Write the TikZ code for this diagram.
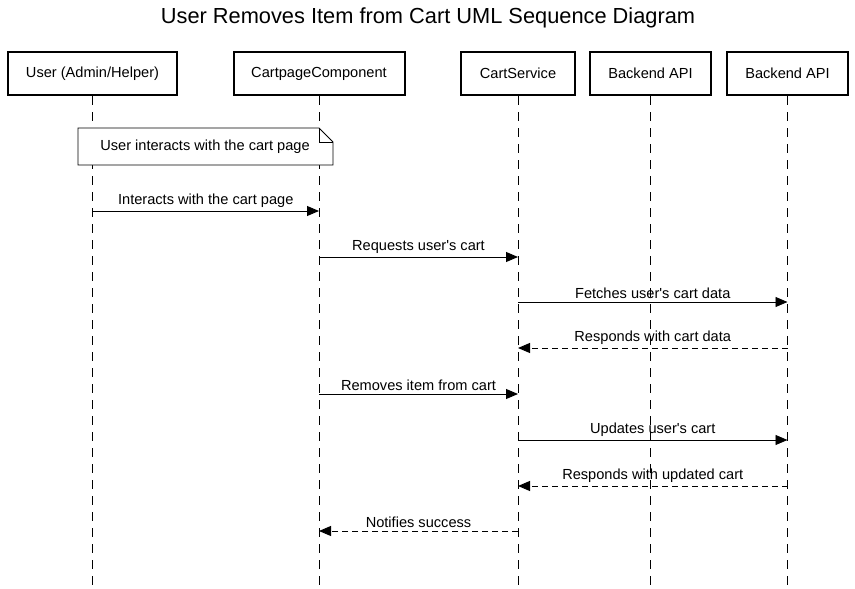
\documentclass[tikz,border=0pt]{standalone}
\usepackage{fontspec}
\setmainfont{Liberation Sans}
\usetikzlibrary{arrows.meta}
\begin{document}
\begin{tikzpicture}[x=1pt,y=-1pt,
  actor/.style={draw,line width=2pt,minimum height=43pt,inner sep=0pt,font=\fontsize{14.6}{16}\selectfont},
  life/.style={line width=0.9pt,dash pattern=on 9pt off 7pt},
  msg/.style={line width=0.9pt,-{Triangle[length=12pt,width=10pt]}},
  ret/.style={msg,dash pattern=on 6pt off 4pt},
  lbl/.style={font=\fontsize{14.6}{16}\selectfont,above=0pt}]
\useasboundingbox (0,0) rectangle (855,589);
\node[font=\fontsize{21.8}{26}\selectfont] (title) at (428,18) {User Removes Item from Cart UML Sequence Diagram};
\node[actor,minimum width=169pt] (u) at (92.5,73.5) {User (Admin/Helper)};
\node[actor,minimum width=171pt] (c) at (319,73.5) {CartpageComponent};
\node[actor,minimum width=114pt] (s) at (518,73.5) {CartService};
\node[actor,minimum width=121pt] (b1) at (650.5,73.5) {Backend API};
\node[actor,minimum width=121pt] (b2) at (787.5,73.5) {Backend API};
\coordinate (ue) at (92.5,589);
\coordinate (ce) at (319,589);
\coordinate (se) at (518,589);
\coordinate (b1e) at (650.5,589);
\coordinate (b2e) at (787.5,589);
\draw[life] (u.south) -- (ue);
\draw[life] (c.south) -- (ce);
\draw[life] (s.south) -- (se);
\draw[life] (b1.south) -- (b1e);
\draw[life] (b2.south) -- (b2e);
% note
\draw[fill=white,line width=0.9pt] (78,128) -- (319,128) -- (333,142) -- (333,165) -- (78,165) -- cycle;
\draw[line width=0.9pt] (319,128) -- (319,142) -- (333,142);
\node[font=\fontsize{14.6}{16}\selectfont] (note) at (205,147) {User interacts with the cart page};
% messages
\coordinate (m1a) at (92.5,211); \coordinate (m1b) at (319,211);
\draw[msg] (m1a) -- node[lbl]{Interacts with the cart page} (m1b);
\coordinate (m2a) at (319,257); \coordinate (m2b) at (518,257);
\draw[msg] (m2a) -- node[lbl]{Requests user\textquotesingle s cart} (m2b);
\coordinate (m3a) at (518,302); \coordinate (m3b) at (787.5,302);
\draw[msg] (m3a) -- node[lbl]{Fetches user\textquotesingle s cart data} (m3b);
\coordinate (m4a) at (787.5,348); \coordinate (m4b) at (518,348);
\draw[ret] (m4a) -- node[lbl]{Responds with cart data} (m4b);
\coordinate (m5a) at (319,394); \coordinate (m5b) at (518,394);
\draw[msg] (m5a) -- node[lbl]{Removes item from cart} (m5b);
\coordinate (m6a) at (518,440); \coordinate (m6b) at (787.5,440);
\draw[msg] (m6a) -- node[lbl]{Updates user\textquotesingle s cart} (m6b);
\coordinate (m7a) at (787.5,486); \coordinate (m7b) at (518,486);
\draw[ret] (m7a) -- node[lbl]{Responds with updated cart} (m7b);
\coordinate (m8a) at (518,531); \coordinate (m8b) at (319,531);
\draw[ret] (m8a) -- node[lbl]{Notifies success} (m8b);
\end{tikzpicture}
\end{document}
